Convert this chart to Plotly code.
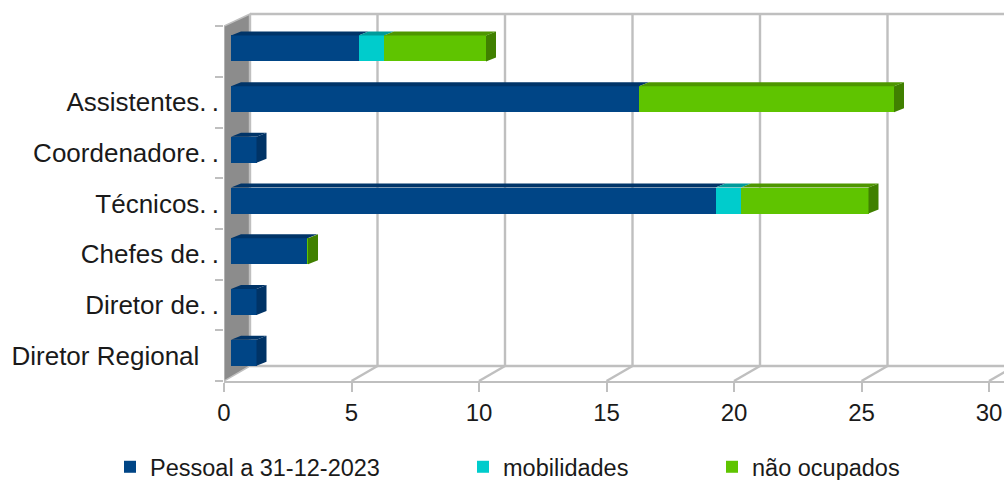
import plotly.graph_objects as go

categories = ["Diretor Regional\u00a0\u00a0\u2009", "Diretor de.\u2009.", "Chefes de.\u2009.", "Técnicos.\u2009.", "Coordenadore.\u2009.", "Assistentes.\u2009.", ""]
pessoal = [1, 1, 3, 19, 1, 16, 5]
mobilidades = [0, 0, 0, 1, 0, 0, 1]
nao_ocupados = [0, 0, 0.02, 5, 0, 10, 4]
x_ticks = [0, 5, 10, 15, 20, 25, 30]
series_names = ["Pessoal a 31-12-2023", "mobilidades", "não ocupados"]
face_colors = ["#004586", "#00CCCC", "#5FC400"]
top_colors = ["#003468", "#009A9A", "#4E9600"]
side_colors = ["#003366", "#009999", "#408000"]

W, H = 1004, 480
PX_X = 25.5      # px per unit on x
PX_Y = 50.7      # px per category
X0, Y0 = 224, 381
BAR_SHIFT = (7, 3)
BAR_DEPTH = (10, 4)
WALL_DEPTH = (26, 15)
WALL_TOP = 14
GRID = "#BFBFBF"
n = len(categories)

fig = go.Figure()
dx_w, dy_w = WALL_DEPTH[0] / PX_X, WALL_DEPTH[1] / PX_Y
y_low, y_high = -0.5, n - 0.5
y_wall_top = y_low + (Y0 - WALL_TOP) / PX_Y
y_page_top = y_low + Y0 / PX_Y

def line(xs, ys, color=GRID, width=2.4):
    fig.add_trace(go.Scatter(x=xs, y=ys, mode="lines", line=dict(color=color, width=width),
                             hoverinfo="skip", showlegend=False, cliponaxis=False))

# left wall
fig.add_trace(go.Scatter(x=[0, dx_w, dx_w, 0, 0], y=[y_low, y_low + dy_w, y_wall_top, y_high, y_low],
                         mode="lines", fill="toself", fillcolor="#8C8C8C",
                         line=dict(color=GRID, width=1.5), hoverinfo="skip", showlegend=False))
# back wall gridlines and floor
for t in x_ticks:
    line([t + dx_w, t + dx_w], [y_low + dy_w, y_wall_top])
    if t:
        line([t, t + dx_w], [y_low, y_low + dy_w])
line([dx_w, x_ticks[-1] + dx_w], [y_wall_top, y_wall_top])
line([dx_w, x_ticks[-1] + dx_w], [y_low + dy_w, y_low + dy_w])

# stacked front faces
stacks = [pessoal, mobilidades, nao_ocupados]
legend_ids = ["legend", "legend2", "legend3"]
for vals, name, col, lg in zip(stacks, series_names, face_colors, legend_ids):
    fig.add_trace(go.Bar(y=list(range(n)), x=vals, name=name, orientation="h", width=26 / PX_Y,
                         marker=dict(color=col, line=dict(width=0)), legend=lg,
                         xaxis="x2", yaxis="y2", hoverinfo="skip"))

# depth faces derived from the same values
dbx, dby = BAR_DEPTH[0] / PX_X, BAR_DEPTH[1] / PX_Y
half = 13 / PX_Y
for i in range(n):
    start = 0
    last = 0
    for s, vals in enumerate(stacks):
        v = vals[i]
        if v:
            end = start + v
            fig.add_trace(go.Scatter(
                x=[start, start + dbx, end + dbx, end, start],
                y=[i + half, i + half + dby, i + half + dby, i + half, i + half],
                mode="lines", fill="toself", fillcolor=top_colors[s], line=dict(width=0),
                xaxis="x2", yaxis="y2", hoverinfo="skip", showlegend=False))
            start = end
            last = s
    fig.add_trace(go.Scatter(
        x=[start, start + dbx, start + dbx, start, start],
        y=[i - half, i - half + dby, i + half + dby, i + half, i - half],
        mode="lines", fill="toself", fillcolor=side_colors[last], line=dict(width=0),
        xaxis="x2", yaxis="y2", hoverinfo="skip", showlegend=False))

font = "Liberation Sans"
fig.update_layout(
    width=W, height=H, margin=dict(l=0, r=0, t=0, b=0, autoexpand=False),
    paper_bgcolor="white", plot_bgcolor="rgba(0,0,0,0)", barmode="stack",
    font=dict(family=font, color="#1a1a1a"),
    xaxis=dict(domain=[X0 / W, 1], range=[0, (W - X0) / PX_X], tickvals=x_ticks,
               showgrid=False, zeroline=False, showline=True, linecolor=GRID, linewidth=2.4,
               ticks="outside", ticklen=9, tickcolor=GRID, tickwidth=1.5,
               tickfont=dict(size=24), ticklabeloverflow="allow"),
    yaxis=dict(domain=[1 - Y0 / H, 1], range=[y_low, y_page_top], tickvals=list(range(n)),
               ticktext=categories, showgrid=False, zeroline=False, showline=False,
               ticks="", tickfont=dict(size=26), ticklabelstandoff=4,
               minor=dict(tickvals=[i - 0.5 for i in range(n + 1)], ticks="outside", ticklen=8,
                          tickcolor=GRID, tickwidth=1.5, showgrid=False)),
    xaxis2=dict(domain=[(X0 + BAR_SHIFT[0]) / W, 1], range=[0, (W - X0 - BAR_SHIFT[0]) / PX_X],
                visible=False, anchor="y2"),
    yaxis2=dict(domain=[1 - (Y0 - BAR_SHIFT[1]) / H, 1], range=[y_low, y_low + (Y0 - BAR_SHIFT[1]) / PX_Y],
                visible=False, anchor="x2"),
)
for lg, lx in zip(legend_ids, [110, 463, 712]):
    fig.update_layout({lg: dict(x=lx / W, y=1 - 467 / H, xanchor="left", yanchor="middle",
                                orientation="h", font=dict(size=23.5), bgcolor="rgba(0,0,0,0)",
                                itemclick=False, itemdoubleclick=False)})

fig.write_html("out.html", config=dict(displayModeBar=False),
               post_script="document.body.style.margin='0';document.documentElement.style.overflow='hidden';")
